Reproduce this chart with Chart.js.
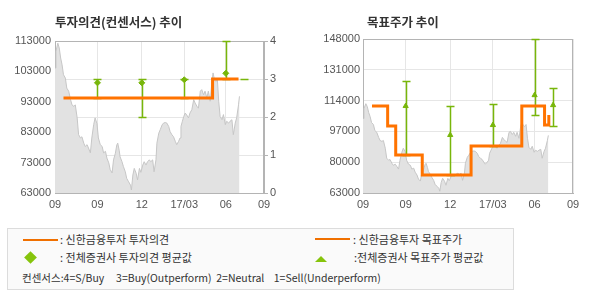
<!DOCTYPE html>
<html>
<head>
<meta charset="utf-8">
<script src="https://cdn.jsdelivr.net/npm/chart.js@4.4.1/dist/chart.umd.min.js"></script>
<style>
    body { margin: 0; background: #fff; }
    #page { position: relative; width: 590px; height: 300px; font-family: "Noto Sans CJK KR", sans-serif; color: #333; }
    canvas { position: absolute; top: 0; }
    .title { position: absolute; top: 12px; font-size: 12.5px; font-weight: bold; color: #333; white-space: nowrap; }
    .legend { position: absolute; left: 7px; top: 228px; width: 505px; height: 60px; border: 1px solid #dcdcdc; background: #fafafa; }
    .lg { position: absolute; font-size: 11px; line-height: 13px; white-space: pre; color: #333; }
    .lg-line { position: absolute; height: 2px; background: #f07000; }
    .lg-diamond { position: absolute; width: 9px; height: 9px; background: #86c40c; transform: rotate(45deg); }
    .lg-tri { position: absolute; width: 0; height: 0; border-left: 6.5px solid transparent; border-right: 6.5px solid transparent; border-bottom: 6px solid #86c40c; }
</style>
</head>
<body>
<div id="page">
    <canvas id="opinionChart" width="290" height="220" style="left:0"></canvas>
    <canvas id="targetChart" width="300" height="220" style="left:290px"></canvas>
    <div class="title" style="left:55px">투자의견(컨센서스) 추이</div>
    <div class="title" style="left:367px">목표주가 추이</div>

    <div class="legend"></div>
    <div class="lg-line" style="left:23px; top:239px; width:35px"></div>
    <div class="lg" style="left:60px; top:233px">: 신한금융투자 투자의견</div>
    <div class="lg-diamond" style="left:26px; top:253px"></div>
    <div class="lg" style="left:60px; top:251px">: 전체증권사 투자의견 평균값</div>
    <div class="lg-line" style="left:315px; top:238px; width:35px"></div>
    <div class="lg" style="left:353px; top:233px">: 신한금융투자 목표주가</div>
    <div class="lg-tri" style="left:315px; top:256px"></div>
    <div class="lg" style="left:354px; top:251px">:전체증권사 목표주가 평균값</div>
    <div class="lg" style="left:22px; top:271px; font-size:10.5px">컨센서스:4=S/Buy     3=Buy(Outperform)  2=Neutral    1=Sell(Underperform)</div>
</div>
<script>
// x axis is in days from the first tick
const xTickDays = [0, 90, 184, 274, 362, 443];
const xTickLabels = ['09', '09', '12', '17/03', '06', '09'];

// stock price (gray area)
const priceDays = [0, 2, 6, 9, 12, 15, 18, 22, 25, 29, 33, 36, 40, 43, 47, 50, 54, 57, 61, 64,
    68, 71, 75, 78, 82, 85, 89, 92, 96, 100, 103, 107, 110, 114, 117, 121, 124, 128, 131, 133,
    136, 138, 142, 145, 149, 152, 156, 160, 162, 165, 168, 172, 175, 179, 182, 186, 189, 193, 196, 200,
    203, 207, 210, 214, 216, 220, 223, 227, 230, 234, 237, 241, 244, 248, 251, 255, 258, 262, 265, 267,
    270, 273, 276, 279, 283, 286, 290, 294, 297, 301, 304, 308, 311, 315, 318, 322, 325, 329, 332, 335,
    338, 341, 344, 347, 350, 354, 357, 361, 364, 368, 371, 375, 378, 382, 385, 389, 391];
const prices = [104100, 109600, 112300, 110700, 107400, 105200, 101900, 100800, 97500, 96500,
    93700, 92000, 91500, 92000, 87700, 82200, 81100, 81500, 79400, 78300,
    78900, 77800, 76200, 81100, 85500, 87700, 85800, 81100, 78900, 78300,
    76200, 76700, 74500, 72900, 70700, 69600, 73900, 76100, 78800, 79400,
    77100, 74900, 73300, 71700, 70000, 67800, 66700, 65600, 64000, 68900,
    71100, 69500, 67300, 71100, 69800, 72200, 73300, 72200, 73300, 73900,
    73300, 73900, 70000, 73900, 79400, 82700, 83800, 85400, 86000, 86200,
    86000, 84900, 83200, 82100, 81600, 80000, 78900, 80000, 81100, 84900,
    86600, 88200, 89300, 88700, 87700, 89300, 90400, 93700, 92600, 91500,
    90900, 96500, 97000, 95300, 96500, 94300, 96500, 93200, 98600, 102500,
    100300, 99700, 100800, 93200, 88200, 87100, 88800, 85500, 86600, 86000,
    86600, 87100, 82200, 86000, 87700, 92000, 94800];

// 신한금융투자 투자의견 (stepped)
const opinionDays = [18, 334, 389];
const opinionValues = [2.5, 3, 3];
// 전체증권사 투자의견 평균값 / range
const opinionAvgDays = [90, 184, 274, 362, 401];
const opinionAvg = [2.9, 2.9, 2.98, 3.15, null];
const opinionMin = [2.5, 2, 2.5, 3, 3];
const opinionMax = [3, 3, 3, 4, 3];

// 신한금융투자 목표주가 (stepped)
const targetDays = [19, 52, 69, 125, 228, 335, 383, 392];
const targetValues = [111000, 100000, 84000, 73000, 89000, 111000, 100500, 106000];
// 전체증권사 목표주가 평균값 / range
const targetAvgDays = [90, 184, 274, 362, 401];
const targetAvg = [111000, 95000, 100500, 117000, 111500];
const targetMin = [84000, 73000, 89000, 106000, 100000];
const targetMax = [125000, 111000, 112000, 148000, 121000];

const ORANGE = '#ff7300';
const GREEN = '#78b60a';
const GRID = '#e6e6e6';
const BORDER = '#b4b4b4';
const TICK_FONT = { family: 'Liberation Sans', size: 11 };
const TICK_COLOR = '#555';

function toPoints(xs, ys) {
    return xs.map((x, i) => ({ x: x, y: ys[i] }));
}

// error bars drawn right after the gray area, below the lines
function errorBarPlugin(axisId, days, mins, maxs) {
    return {
        id: 'errorBars',
        beforeDatasetsDraw(chart) {
            const { ctx, chartArea } = chart;
            ctx.save();
            ctx.strokeStyle = BORDER;
            ctx.lineWidth = 1;
            ctx.strokeRect(chartArea.left + 0.5, chartArea.top + 0.5, chartArea.width - 1, chartArea.height);
            ctx.restore();
        },
        afterDatasetDraw(chart, args) {
            if (args.index !== 0) return;
            const ctx = chart.ctx;
            const xs = chart.scales.x, ys = chart.scales[axisId];
            ctx.save();
            ctx.strokeStyle = GREEN;
            ctx.lineWidth = 1.5;
            days.forEach((d, i) => {
                const x = Math.round(xs.getPixelForValue(d)) + 0.5;
                const top = Math.round(ys.getPixelForValue(maxs[i])) + 0.5;
                const bot = Math.round(ys.getPixelForValue(mins[i])) + 0.5;
                ctx.beginPath();
                ctx.moveTo(x - 4, top); ctx.lineTo(x + 4, top);
                ctx.moveTo(x, top); ctx.lineTo(x, bot);
                ctx.moveTo(x - 4, bot); ctx.lineTo(x + 4, bot);
                ctx.stroke();
            });
            ctx.restore();
        }
    };
}

function xScale() {
    return {
        type: 'linear',
        min: 0,
        max: xTickDays[xTickDays.length - 1],
        afterBuildTicks: axis => { axis.ticks = xTickDays.map(v => ({ value: v })); },
        afterFit: axis => { axis.height = 27; },
        grid: { color: GRID, drawTicks: false },
        border: { color: BORDER },
        ticks: {
            padding: 5,
            font: TICK_FONT,
            color: TICK_COLOR,
            maxRotation: 0,
            autoSkip: false,
            callback: (v, i) => xTickLabels[i]
        }
    };
}

function priceDataset() {
    return {
        type: 'line',
        data: toPoints(priceDays, prices),
        yAxisID: 'y',
        order: 3,
        fill: 'start',
        backgroundColor: '#e2e2e2',
        borderColor: '#c6c6c6',
        borderWidth: 1,
        pointRadius: 0,
        tension: 0
    };
}

const baseOptions = {
    responsive: false,
    animation: false,
    devicePixelRatio: 1,
    plugins: { legend: { display: false }, tooltip: { enabled: false }, title: { display: false } }
};

// 투자의견(컨센서스) 추이
new Chart(document.getElementById('opinionChart').getContext('2d'), {
    type: 'line',
    data: {
        datasets: [
            priceDataset(),
            {
                data: toPoints(opinionDays, opinionValues),
                yAxisID: 'y1',
                order: 2,
                stepped: true,
                borderColor: ORANGE,
                borderWidth: 3,
                pointRadius: 0,
                fill: false
            },
            {
                data: toPoints(opinionAvgDays, opinionAvg),
                yAxisID: 'y1',
                order: 1,
                showLine: false,
                pointStyle: 'rectRot',
                pointRadius: 3,
                pointBackgroundColor: GREEN,
                pointBorderColor: GREEN
            }
        ]
    },
    options: {
        ...baseOptions,
        layout: { padding: { top: 41, left: 0, right: 0, bottom: 0 } },
        scales: {
            x: xScale(),
            y: {
                position: 'left',
                min: 63000,
                max: 113000,
                afterFit: axis => { axis.width = 55; },
                grid: { display: false, drawTicks: false },
                border: { color: BORDER },
                ticks: { stepSize: 10000, padding: 4, font: TICK_FONT, color: TICK_COLOR, callback: v => String(v) }
            },
            y1: {
                position: 'right',
                min: 0,
                max: 4,
                afterFit: axis => { axis.width = 26; },
                grid: { color: GRID, tickColor: BORDER, tickLength: 4 },
                border: { color: BORDER },
                ticks: { stepSize: 1, padding: 2, font: TICK_FONT, color: TICK_COLOR }
            }
        }
    },
    plugins: [errorBarPlugin('y1', opinionAvgDays, opinionMin, opinionMax)]
});

// 목표주가 추이
new Chart(document.getElementById('targetChart').getContext('2d'), {
    type: 'line',
    data: {
        datasets: [
            priceDataset(),
            {
                data: toPoints(targetDays, targetValues),
                yAxisID: 'y',
                order: 2,
                stepped: true,
                borderColor: ORANGE,
                borderWidth: 3,
                pointRadius: 0,
                fill: false
            },
            {
                data: toPoints(targetAvgDays, targetAvg),
                yAxisID: 'y',
                order: 1,
                showLine: false,
                pointStyle: 'triangle',
                pointRadius: 3,
                pointBackgroundColor: GREEN,
                pointBorderColor: GREEN
            }
        ]
    },
    options: {
        ...baseOptions,
        layout: { padding: { top: 39, left: 0, right: 17, bottom: 0 } },
        scales: {
            x: xScale(),
            y: {
                position: 'left',
                min: 63000,
                max: 148000,
                afterFit: axis => { axis.width = 73; },
                grid: { color: GRID, drawTicks: false },
                border: { color: BORDER },
                ticks: { stepSize: 17000, padding: 3, font: TICK_FONT, color: TICK_COLOR, callback: v => String(v) }
            }
        }
    },
    plugins: [errorBarPlugin('y', targetAvgDays, targetMin, targetMax)]
});
</script>
</body>
</html>
